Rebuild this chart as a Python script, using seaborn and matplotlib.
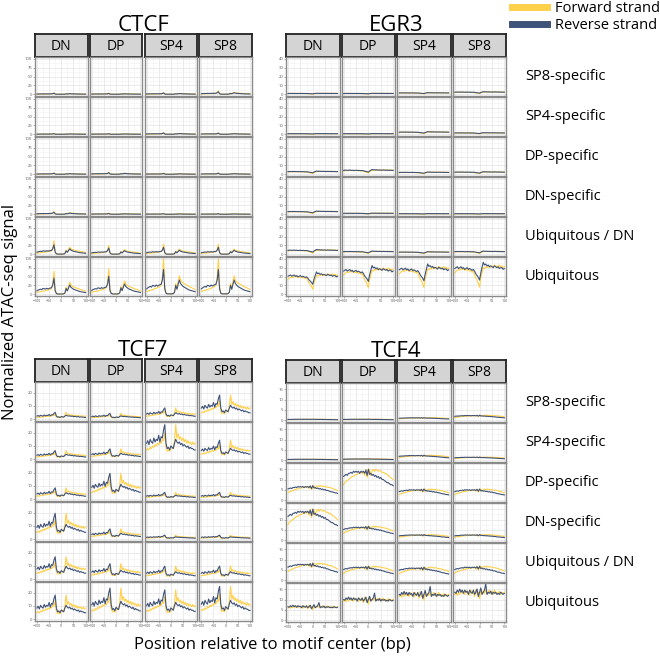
import numpy as np
import pandas as pd
import matplotlib
matplotlib.use('Agg')
import matplotlib.pyplot as plt
from matplotlib.lines import Line2D
import seaborn as sns

# Posities ten opzichte van het motief-centrum (bp)
positions = list(range(-100, 101, 5))
stages = ['DN', 'DP', 'SP4', 'SP8']
peak_sets = ['SP8-specific', 'SP4-specific', 'DP-specific', 'DN-specific',
             'Ubiquitous / DN', 'Ubiquitous']

ctcf_fwd = [8, 9, 10, 11, 12, 13, 14, 16, 17, 18, 20, 22, 26, 45, 100, 20, 4, 2, 1, 1, 1,
            1, 2, 6, 30, 16, 35, 52, 40, 35, 32, 30, 28, 26, 24, 22, 20, 19, 17, 15, 13]
ctcf_rev = [15, 18, 20, 22, 20, 25, 24, 22, 26, 23, 25, 27, 28, 40, 70, 15, 3, 1, 1, 1, 1,
            1, 2, 5, 25, 14, 28, 40, 30, 26, 22, 20, 18, 16, 14, 12, 11, 10, 9, 8, 7]

egr3_fwd = [24, 26, 27, 28, 27, 29, 28, 29, 27, 28, 27, 28, 26, 27, 25, 26, 22, 18, 16, 12, 8,
            18, 24, 30, 29, 31, 30, 32, 30, 31, 32, 30, 33, 31, 32, 30, 33, 31, 32, 30, 31]
egr3_rev = [29, 30, 31, 29, 30, 31, 29, 30, 28, 29, 30, 28, 29, 28, 27, 28, 26, 23, 21, 19, 16,
            24, 30, 36, 33, 34, 32, 33, 31, 32, 31, 30, 32, 31, 30, 31, 29, 30, 30, 28, 29]

tcf7_fwd = [7, 8, 7, 9, 8, 10, 9, 11, 10, 12, 11, 13, 12, 15, 14, 20, 9, 6, 7, 6, 8,
            9, 8, 14, 26, 16, 19, 15, 17, 14, 16, 13, 15, 12, 14, 12, 13, 11, 13, 11, 12]
tcf7_rev = [12, 14, 11, 15, 13, 12, 16, 13, 15, 14, 18, 13, 17, 16, 22, 26, 12, 8, 9, 7, 10,
            9, 8, 12, 15, 13, 12, 13, 11, 12, 10, 11, 10, 9, 10, 8, 9, 8, 8, 7, 7]

tcf4_fwd = [7.5, 8.5, 9, 9.5, 10, 10.5, 11, 11.5, 11.5, 12, 12.5, 12.5, 13, 13, 13.5, 13, 14,
            12, 15, 11, 13, 15, 12, 14, 15, 14, 15, 14.5, 14, 14.5, 14, 13.5, 13.5, 13, 13,
            12.5, 12, 11.5, 11, 10.5, 10]
tcf4_rev = [11.5, 12, 12.5, 12, 13, 13, 13.5, 13, 14, 13.5, 14, 13.5, 14, 13, 14, 13.5, 14,
            13, 14.5, 12, 15, 12.5, 13, 12, 12.5, 11.5, 12, 11, 11.5, 10.5, 11, 10, 10, 9.5,
            9, 8.5, 8.5, 8, 7.5, 7.5, 7]
tcf4_fwd_flat = [12, 13, 11.5, 13, 12, 14, 12.5, 13, 12, 14, 12.5, 13, 11.5, 14, 12.5, 13, 11,
                 14.5, 12, 13, 10, 14, 12, 13.5, 12.5, 14, 12, 13, 14, 12.5, 13.5, 12, 14,
                 12.5, 13, 12, 13.5, 12, 13, 12.5, 13]
tcf4_rev_flat = [13, 12.5, 14, 13, 14.5, 13, 14, 12.5, 14, 13, 13.5, 12, 14, 13, 12.5, 14, 12,
                 13, 14.5, 11, 13, 15, 12, 13, 14, 17, 12, 13, 12.5, 13.5, 12, 13, 12.5, 13,
                 12, 12.5, 12, 13, 12.5, 12, 12.5]

# Signaalniveau per cel (rij = peak set, kolom = stadium), t.o.v. het profiel
ctcf_scale = [[0.04, 0.03, 0.05, 0.10],
              [0.02, 0.02, 0.05, 0.04],
              [0.04, 0.06, 0.03, 0.04],
              [0.08, 0.03, 0.02, 0.02],
              [0.38, 0.25, 0.28, 0.28],
              [0.65, 0.72, 1.00, 1.00]]
egr3_scale = [[0.03, 0.03, 0.05, 0.08],
              [0.02, 0.02, 0.08, 0.05],
              [0.10, 0.15, 0.07, 0.08],
              [0.10, 0.035, 0.02, 0.02],
              [0.15, 0.10, 0.08, 0.10],
              [0.70, 0.90, 0.95, 1.00]]
tcf7_scale = [[0.20, 0.17, 0.33, 0.70],
              [0.25, 0.30, 1.00, 0.55],
              [0.33, 0.75, 0.20, 0.20],
              [0.75, 0.30, 0.12, 0.12],
              [0.65, 0.45, 0.38, 0.38],
              [0.70, 0.90, 0.85, 0.95]]
tcf4_scale = [[0.03, 0.03, 0.08, 0.16],
              [0.03, 0.04, 0.16, 0.10],
              [0.47, 1.00, 0.36, 0.36],
              [1.00, 0.45, 0.18, 0.18],
              [0.55, 0.45, 0.42, 0.45],
              [0.50, 0.77, 0.96, 1.04]]

fwd_color = '#FFD04A'
rev_color = '#3F5277'

panels = {
    'CTCF': dict(profiles=[(ctcf_fwd, ctcf_rev)] * 6, scale=ctcf_scale,
                 ylim=(-5, 105), yticks=[0, 25, 50, 75, 100],
                 x0=35, dx=54.8, w=52.5, top=57),
    'EGR3': dict(profiles=[(egr3_fwd, egr3_rev)] * 6, scale=egr3_scale,
                 ylim=(-2, 42), yticks=[0, 10, 20, 30, 40],
                 x0=286, dx=55.6, w=53.5, top=57),
    'TCF7': dict(profiles=[(tcf7_fwd, tcf7_rev)] * 6, scale=tcf7_scale,
                 ylim=(-1.3, 28), yticks=[0, 10, 20],
                 x0=35, dx=54.8, w=52.5, top=382),
    'TCF4': dict(profiles=[(tcf4_fwd, tcf4_rev)] * 5 + [(tcf4_fwd_flat, tcf4_rev_flat)],
                 scale=tcf4_scale, ylim=(-0.9, 18), yticks=[0, 5, 10, 15],
                 x0=286, dx=55.6, w=53.5, top=383),
}

W, H = 660, 656
plt.rcParams['font.family'] = ['Open Sans', 'DejaVu Sans']
fig = plt.figure(figsize=(W / 100, H / 100), dpi=100)


def px_axes(x, y, w, h):
    # pixel-rechthoek (links, boven) omzetten naar figuur-coordinaten
    return fig.add_axes([x / W, 1 - (y + h) / H, w / W, h / H])


row_h, row_dy, strip_h = 39, 40, 23

for tf, p in panels.items():
    # Titel boven het blok
    cx = (p['x0'] + 3 * p['dx'] + p['w'] + p['x0']) / 2
    fig.text(cx / W, 1 - (p['top'] - strip_h - 3) / H, tf, ha='center', va='baseline',
             fontsize=16)
    yt = p['yticks']
    ystep = yt[1] - yt[0]
    for j, stage in enumerate(stages):
        x = p['x0'] + j * p['dx']
        # Grijze strip met stadium
        sax = px_axes(x, p['top'] - strip_h, p['w'], strip_h)
        sax.set_facecolor('#d4d4d4')
        sax.set_xticks([])
        sax.set_yticks([])
        for s in sax.spines.values():
            s.set_color('#222222')
            s.set_linewidth(1.3)
        sax.text(0.5, 0.45, stage, ha='center', va='center', fontsize=10,
                 transform=sax.transAxes)
        for i, peaks in enumerate(peak_sets):
            ax = px_axes(x, p['top'] + i * row_dy, p['w'], row_h)
            fwd, rev = p['profiles'][i]
            k = p['scale'][i][j]
            df = pd.DataFrame({
                'Position': positions + positions,
                'Signal': list(np.array(fwd) * k) + list(np.array(rev) * k),
                'Strand': ['Forward strand'] * len(positions) + ['Reverse strand'] * len(positions),
            })
            sns.lineplot(data=df, x='Position', y='Signal', hue='Strand', ax=ax,
                         palette={'Forward strand': fwd_color, 'Reverse strand': rev_color},
                         linewidth=0.8, legend=False)
            ax.set_xlim(-108, 108)
            ax.set_ylim(*p['ylim'])
            ax.set_xticks([-100, -50, 0, 50, 100])
            ax.set_xticks([-75, -25, 25, 75], minor=True)
            ax.set_yticks(yt)
            ax.set_yticks([v + ystep / 2 for v in yt[:-1]], minor=True)
            ax.grid(which='major', color='#e3e3e3', linewidth=0.5)
            ax.grid(which='minor', color='#f1f1f1', linewidth=0.4)
            ax.set_axisbelow(True)
            ax.set_xlabel('')
            ax.set_ylabel('')
            ax.tick_params(which='both', length=1.2, width=0.4, color='#777777',
                           labelsize=3.0, labelcolor='#555555', pad=0.8)
            ax.tick_params(axis='x', labelsize=2.6)
            ax.tick_params(which='minor', length=0)
            if j > 0:
                ax.tick_params(axis='y', labelleft=False, length=0)
            if i < len(peak_sets) - 1:
                ax.tick_params(axis='x', labelbottom=False, length=0)
            for s in ax.spines.values():
                s.set_color('#8a8a8a')
                s.set_linewidth(1.0)
        if tf in ('EGR3', 'TCF4') and j == 3:
            for i, peaks in enumerate(peak_sets):
                fig.text(525 / W, 1 - (p['top'] + i * row_dy + 20) / H, peaks,
                         ha='left', va='center', fontsize=10.5)

# Legenda rechtsboven
handles = [Line2D([0], [0], color=fwd_color, lw=5),
           Line2D([0], [0], color=rev_color, lw=5)]
fig.legend(handles, ['Forward strand', 'Reverse strand'], loc='upper left',
           bbox_to_anchor=(512 / W, 1 - 1 / H), frameon=False, fontsize=10.5,
           handlelength=2.4, handletextpad=0.55, labelspacing=0.15, borderpad=0,
           borderaxespad=0)

# As-labels
fig.text(272 / W, 1 - 645 / H, 'Position relative to motif center (bp)',
         ha='center', va='center', fontsize=12)
fig.text(10 / W, 1 - 312 / H, 'Normalized ATAC-seq signal', ha='center', va='center',
         rotation=90, fontsize=12)

fig.savefig('out.png', dpi=100, facecolor='white')
